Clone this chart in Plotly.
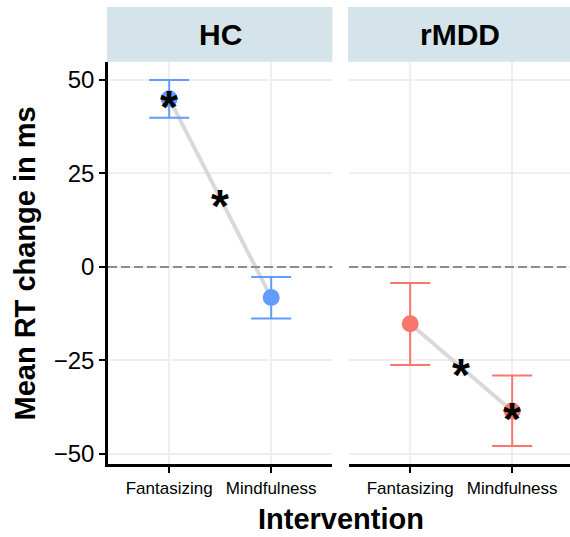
import plotly.graph_objects as go

# ---- data ----
groups = ["HC", "rMDD"]
interventions = ["Fantasizing", "Mindfulness"]
hc_mean = [45.0, -8.2]
hc_lo = [39.9, -13.8]
hc_hi = [50.0, -2.7]
rmdd_mean = [-15.2, -38.5]
rmdd_lo = [-26.2, -47.9]
rmdd_hi = [-4.3, -29.0]
colors = {"HC": "#619CFF", "rMDD": "#F8766D"}
# significance stars
hc_stars_on_points = [True, False]
rmdd_stars_on_points = [False, True]
star_between = {"HC": True, "rMDD": True}

W, H = 570, 537
FONT = "Liberation Sans, Arial, Helvetica, sans-serif"

# layout geometry (pixels)
top_plot, bot_plot = 62, 467
strip_top = 7
px_per_unit = 102.0
left_x0 = 108
right_x0 = 349

ydom = [1 - bot_plot / H, 1 - top_plot / H]
yrange = [-52.8, 54.9]

fig = go.Figure()

data = {
    "HC": (hc_mean, hc_lo, hc_hi, hc_stars_on_points, "x", "y"),
    "rMDD": (rmdd_mean, rmdd_lo, rmdd_hi, rmdd_stars_on_points, "x2", "y2"),
}
xs = [i + 1 for i in range(len(interventions))]

annotations = []
STAR_SIZE = 46
STAR_SHIFT = -8
for g in groups:
    m, lo, hi, stars, xa, ya = data[g]
    fig.add_trace(go.Scatter(x=xs, y=m, mode="lines", xaxis=xa, yaxis=ya,
                             line=dict(color="#D9D9D9", width=4), showlegend=False,
                             hoverinfo="skip"))
    fig.add_trace(go.Scatter(
        x=xs, y=m, mode="markers", xaxis=xa, yaxis=ya, showlegend=False,
        marker=dict(color=colors[g], size=17),
        error_y=dict(type="data", symmetric=False,
                     array=[h - v for h, v in zip(hi, m)],
                     arrayminus=[v - l for v, l in zip(m, lo)],
                     color=colors[g], thickness=2, width=20)))
    for i, s in enumerate(stars):
        if s:
            annotations.append(dict(x=xs[i], y=m[i], xref=xa, yref=ya, text="<b>*</b>",
                                    showarrow=False, yshift=STAR_SHIFT,
                                    xanchor="center", yanchor="middle",
                                    font=dict(family=FONT, size=STAR_SIZE, color="black")))
    if star_between[g]:
        annotations.append(dict(x=sum(xs) / 2, y=sum(m) / 2, xref=xa, yref=ya, text="<b>*</b>",
                                showarrow=False, yshift=STAR_SHIFT,
                                xanchor="center", yanchor="middle",
                                font=dict(family=FONT, size=STAR_SIZE, color="black")))

axis_common = dict(showline=True, linecolor="black", linewidth=2.5, ticks="outside",
                   ticklen=6, tickwidth=2, tickcolor="black", showgrid=True,
                   gridcolor="#EFEFEF", gridwidth=1.5, zeroline=False)

left_w = 2.2 * px_per_unit
right_w = W - right_x0
left_dom = [left_x0 / W, (left_x0 + left_w) / W]
right_dom = [right_x0 / W, 1.0]
fig.update_layout(
    width=W, height=H, margin=dict(l=0, r=0, t=0, b=0),
    paper_bgcolor="white", plot_bgcolor="white",
    font=dict(family=FONT, color="black"),
    xaxis=dict(domain=left_dom, range=[0.4, 2.6],
               tickvals=xs, ticktext=interventions, anchor="y",
               tickfont=dict(size=17, color="black"), **axis_common),
    xaxis2=dict(domain=right_dom, range=[0.4, 0.4 + right_w / px_per_unit],
                tickvals=xs, ticktext=interventions, anchor="y2",
                tickfont=dict(size=17, color="black"), **axis_common),
    yaxis=dict(domain=ydom, range=yrange, tickvals=[-50, -25, 0, 25, 50], anchor="x",
               tickfont=dict(size=24, color="black"), **axis_common),
    yaxis2=dict(domain=ydom, range=yrange, tickvals=[-50, -25, 0, 25, 50], anchor="x2",
                showticklabels=False, showline=False, ticks="", showgrid=True,
                gridcolor="#EFEFEF", gridwidth=1.5, zeroline=False),
)

shapes = []
for xa, ya, dom in [("x", "y", left_dom), ("x2", "y2", right_dom)]:
    shapes.append(dict(type="line", xref=xa + " domain", yref=ya, x0=0, x1=1, y0=0, y1=0,
                       line=dict(color="#8C8C8C", width=2, dash="9px,4px")))
    shapes.append(dict(type="rect", xref="paper", yref="paper", x0=dom[0] - 1 / W, x1=dom[1],
                       y0=ydom[1], y1=1 - strip_top / H, fillcolor="#D5E3EA", line=dict(width=0)))
fig.update_layout(shapes=shapes)

for g, dom in zip(groups, [left_dom, right_dom]):
    annotations.append(dict(x=(dom[0] + dom[1]) / 2, y=(ydom[1] + 1 - strip_top / H) / 2,
                            xref="paper", yref="paper", text=f"<b>{g}</b>", showarrow=False,
                            xanchor="center", yanchor="middle",
                            font=dict(size=30, color="black", family=FONT)))

annotations.append(dict(x=341 / W, y=1 - 522 / H, xref="paper", yref="paper",
                        text="<b>Intervention</b>", showarrow=False,
                        xanchor="center", yanchor="middle",
                        font=dict(size=29, color="black", family=FONT)))
annotations.append(dict(x=25 / W, y=1 - 265 / H, xref="paper", yref="paper",
                        text="<b>Mean RT change in ms</b>", showarrow=False, textangle=-90,
                        xanchor="center", yanchor="middle",
                        font=dict(size=29, color="black", family=FONT)))
fig.update_layout(annotations=annotations)

fig.write_html("out.html")
